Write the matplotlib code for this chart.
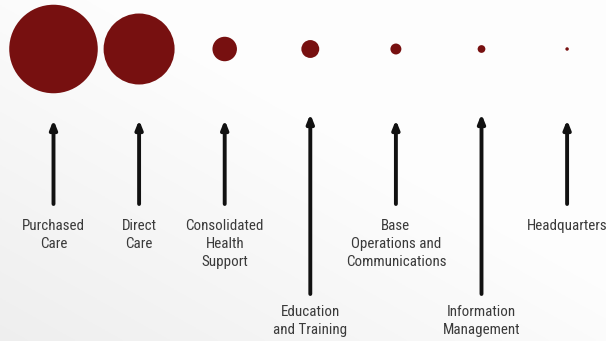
import numpy as np
import matplotlib
matplotlib.use("Agg")
import matplotlib.pyplot as plt

# ---- data ----
categories = ["Purchased\nCare", "Direct\nCare", "Consolidated\nHealth\nSupport",
              "Education\nand Training", "Base\nOperations and\nCommunications",
              "Information\nManagement", "Headquarters"]
# relative sizes (circle areas)
values = [1960, 1260, 150, 80, 30, 15, 3]
# label row: 0 = upper, 1 = lower
label_row = [0, 0, 0, 1, 0, 1, 0]

# ---- layout / style ----
W, H, DPI = 606, 341, 100
circle_color = "#771010"
text_color = "#3a3a3a"
plt.rcParams['font.family'] = ['Roboto Condensed', 'DejaVu Sans']

fig = plt.figure(figsize=(W / DPI, H / DPI), dpi=DPI)
ax = fig.add_axes([0, 0, 1, 1])
x0, step = 53.5, 85.6  # pixels
xlim = (-x0 / step, (W - x0) / step)

# background gradient
gx, gy = np.meshgrid(np.linspace(0, 1, 300), np.linspace(0, 1, 200))
g = np.clip((gx + (1 - gy)) / 1.2, 0, 1)
bg = 0.935 + 0.06 * g
ax.imshow(np.dstack([bg, bg, bg]), extent=[xlim[0], xlim[1], H, 0], aspect="auto", zorder=0)
ax.set_xlim(*xlim)
ax.set_ylim(H, 0)
ax.axis("off")

xs = np.arange(len(categories))
circle_y = 49
px_to_pt = 72 / DPI
sizes = [(2 * np.sqrt(v) * px_to_pt) ** 2 for v in values]
ax.scatter(xs, [circle_y] * len(xs), s=sizes, color=circle_color, linewidths=0, zorder=3)

arrow_top = [120, 114]
arrow_bottom = [204, 294]
label_top = [219, 305]
for x, lab, row in zip(xs, categories, label_row):
    ax.annotate("", xy=(x, arrow_top[row]), xytext=(x, arrow_bottom[row]),
                arrowprops=dict(arrowstyle="-|>,head_length=0.5,head_width=0.2",
                                color="#111111", lw=2.8, shrinkA=0, shrinkB=0),
                zorder=2)
    ax.text(x, label_top[row], lab, ha="center", va="top", fontsize=10.8,
            color=text_color, linespacing=1.38, zorder=4)

fig.savefig("out.png", dpi=DPI)
